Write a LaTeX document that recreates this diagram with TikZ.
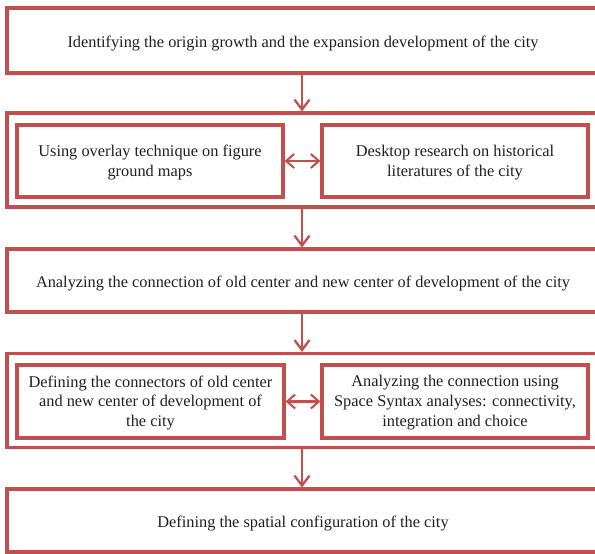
\documentclass[tikz,border=0pt]{standalone}
\usepackage{fontspec}
\setmainfont{Liberation Serif}
\usetikzlibrary{arrows.meta}
\definecolor{boxred}{HTML}{C0504D}
\definecolor{txt}{HTML}{1F1F1F}
\tikzset{
  box/.style={draw=boxred, line width=3.1pt, inner sep=0pt, anchor=center},
  lbl/.style={inner sep=0pt, align=center, text=txt, font=\fontsize{16.4}{20}\selectfont},
  arr/.style={draw=boxred, line width=2.3pt, -{Straight Barb[length=10pt,width=15pt,line width=2.3pt]}},
  darr/.style={draw=boxred, line width=2.1pt, {Straight Barb[length=8pt,width=14pt,line width=2.1pt]}-{Straight Barb[length=8pt,width=14pt,line width=2.1pt]}}
}
\begin{document}
\begin{tikzpicture}[x=1bp,y=-1bp]
\useasboundingbox (0,0) rectangle (595,554);
\clip (0,0) rectangle (595,554);
\fill[white] (0,0) rectangle (595,554);
% boxes
\node[box, minimum width=592bp, minimum height=65bp] (b1) at (303,40.5) {};
\node[box, minimum width=592bp, minimum height=94bp] (b2) at (303,160) {};
\node[box, minimum width=266bp, minimum height=72bp] (b2l) at (150,161) {};
\node[box, minimum width=266bp, minimum height=72bp] (b2r) at (455,161) {};
\node[box, minimum width=592bp, minimum height=63bp] (b3) at (303,280.5) {};
\node[box, minimum width=592bp, minimum height=94bp] (b4) at (303,400.5) {};
\node[box, minimum width=267bp, minimum height=73bp] (b4l) at (150.5,401.5) {};
\node[box, minimum width=266bp, minimum height=73bp] (b4r) at (455,401.5) {};
\node[box, minimum width=592bp, minimum height=63bp] (b5) at (303,520.5) {};
% texts
\node[lbl, anchor=base] (t1) at ([yshift=-7.5bp]b1.center)
  {Identifying the origin growth and the expansion development of the city};
\node[lbl] (t2l) at ([yshift=-1.5bp]b2l.center)
  {Using overlay technique on figure\\ground maps};
\node[lbl] (t2r) at ([yshift=-1.5bp]b2r.center)
  {Desktop research on historical\\literatures of the city};
\node[lbl, anchor=base] (t3) at ([yshift=-6.5bp]b3.center)
  {Analyzing the connection of old center and new center of development of the city};
\node[lbl] (t4l) at ([yshift=-1.5bp]b4l.center)
  {Defining the connectors of old center\\and new center of development of\\the city};
\node[lbl] (t4r) at ([yshift=-1.5bp]b4r.center)
  {Analyzing the connection using\\Space Syntax analyses: connectivity,\\integration and choice};
\node[lbl, anchor=base] (t5) at ([yshift=-6.5bp]b5.center)
  {Defining the spatial configuration of the city};
% arrows
\coordinate (ax) at (302,0);
\draw[arr] (b1.south -| ax) -- (b2.north -| ax);
\draw[arr] (b2.south -| ax) -- (b3.north -| ax);
\draw[arr] (b3.south -| ax) -- (b4.north -| ax);
\draw[arr] (b4.south -| ax) -- (b5.north -| ax);
\draw[darr] (b2l.east) -- (b2r.west);
\draw[darr] (b4l.east) -- (b4r.west);
\end{tikzpicture}
\end{document}
